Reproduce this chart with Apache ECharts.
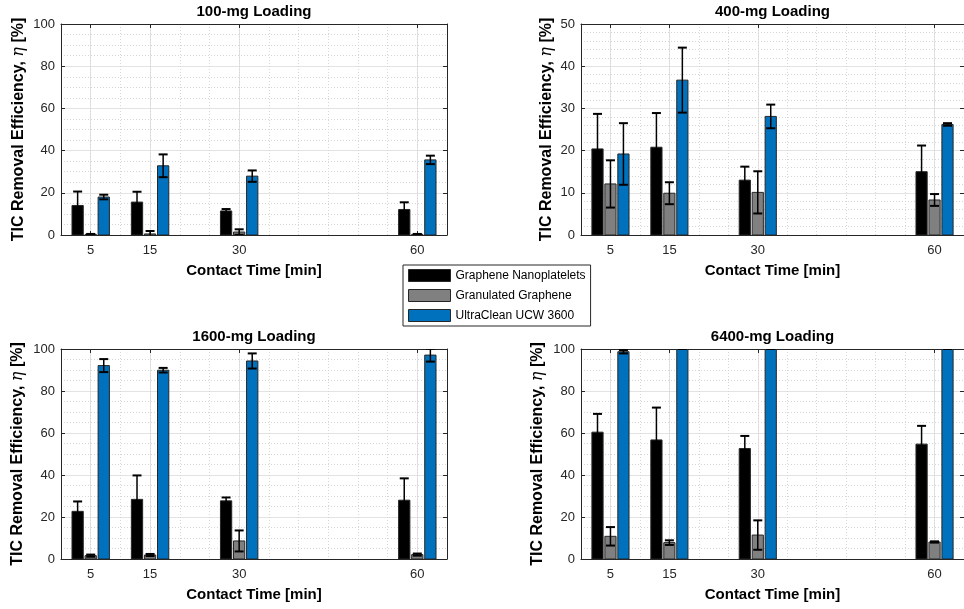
<!DOCTYPE html>
<html>
<head>
<meta charset="utf-8">
<script src="https://cdn.jsdelivr.net/npm/echarts@6/dist/echarts.min.js"></script>
<style>
html, body { margin: 0; padding: 0; background: #fff; }
#chart { width: 964px; height: 609px; }
</style>
</head>
<body>
<div id="chart"></div>
<script>
const times = [5, 15, 30, 60];
const timeTicks = [5, 15, 30, 60];
const materials = ['Graphene Nanoplatelets', 'Granulated Graphene', 'UltraClean UCW 3600'];
const loadings = ['100-mg Loading', '400-mg Loading', '1600-mg Loading', '6400-mg Loading'];
const yMax = [100, 50, 100, 100];
const yStep = [20, 10, 20, 20];
const yMinorSplit = [4, 5, 4, 4];

// 100 mg
const gnp100 = [14.0, 15.6, 11.4, 12.1];
const gnp100Err = [6.6, 4.9, 0.9, 3.4];
const gg100 = [0.3, 0.5, 1.4, 0.3];
const gg100Err = [0.2, 1.4, 1.3, 0.2];
const ucw100 = [18.0, 32.8, 27.9, 35.6];
const ucw100Err = [1.1, 5.4, 2.7, 2.0];

// 400 mg
const gnp400 = [20.4, 20.8, 13.0, 15.0];
const gnp400Err = [8.3, 8.1, 3.2, 6.2];
const gg400 = [12.1, 9.9, 10.1, 8.3];
const gg400Err = [5.6, 2.6, 5.0, 1.4];
const ucw400 = [19.2, 36.7, 28.1, 26.2];
const ucw400Err = [7.3, 7.7, 2.8, 0.3];

// 1600 mg
const gnp1600 = [22.7, 28.4, 27.7, 28.0];
const gnp1600Err = [4.7, 11.4, 1.6, 10.4];
const gg1600 = [1.6, 1.9, 8.6, 2.1];
const gg1600Err = [0.5, 0.5, 5.0, 0.5];
const ucw1600 = [92.1, 89.9, 94.3, 97.1];
const ucw1600Err = [3.1, 1.1, 3.6, 3.1];

// 6400 mg
const gnp6400 = [60.4, 56.7, 52.6, 54.7];
const gnp6400Err = [8.7, 15.4, 6.0, 8.7];
const gg6400 = [10.8, 7.8, 11.4, 8.1];
const gg6400Err = [4.4, 1.1, 7.0, 0.3];
const ucw6400 = [98.7, 100, 100, 100];
const ucw6400Err = [0.8, 0, 0, 0];

const panelData = [
    [[gnp100, gnp100Err], [gg100, gg100Err], [ucw100, ucw100Err]],
    [[gnp400, gnp400Err], [gg400, gg400Err], [ucw400, ucw400Err]],
    [[gnp1600, gnp1600Err], [gg1600, gg1600Err], [ucw1600, ucw1600Err]],
    [[gnp6400, gnp6400Err], [gg6400, gg6400Err], [ucw6400, ucw6400Err]]
];

const colors = ['#000000', '#808080', '#0072BD'];
const offsets = [-2.2, 0, 2.2];
const barW = 1.9;
const font = 'Liberation Sans, Arial, sans-serif';
const axisColor = '#262626';

const grids = [
    {left: 61, top: 24, width: 386, height: 211},
    {left: 581, top: 24, width: 385, height: 211},
    {left: 61, top: 349, width: 386, height: 210},
    {left: 581, top: 349, width: 385, height: 210}
];
const yNameGap = [34, 26, 35, 35];

let chart = echarts.init(document.getElementById('chart'), null, {renderer: 'canvas'});

function barItem(k) {
    return function (params, api) {
        const x = api.value(0) + offsets[k];
        const v = api.value(1);
        const e = api.value(2);
        const p0 = api.coord([x - barW / 2, v]);
        const p1 = api.coord([x + barW / 2, 0]);
        const hi = api.coord([x, v + e]);
        const lo = api.coord([x, v - e]);
        const cap = 4.5;
        return {
            type: 'group',
            children: [
                {
                    type: 'rect',
                    shape: {x: p0[0], y: p0[1], width: p1[0] - p0[0], height: p1[1] - p0[1]},
                    style: {fill: colors[k], stroke: '#262626', lineWidth: 1}
                },
                {type: 'line', shape: {x1: hi[0], y1: hi[1], x2: lo[0], y2: lo[1]}, style: {stroke: '#000', lineWidth: 1.5}},
                {type: 'line', shape: {x1: hi[0] - cap, y1: hi[1], x2: hi[0] + cap, y2: hi[1]}, style: {stroke: '#000', lineWidth: 2}},
                {type: 'line', shape: {x1: lo[0] - cap, y1: lo[1], x2: lo[0] + cap, y2: lo[1]}, style: {stroke: '#000', lineWidth: 2}}
            ]
        };
    };
}

let xAxes = [];
let yAxes = [];
let series = [];

grids.forEach(function (g, p) {
    xAxes.push({
        type: 'value', gridIndex: p, min: 0, max: 65, position: 'bottom',
        axisLine: {show: true, onZero: false, lineStyle: {color: axisColor}},
        axisTick: {show: true, inside: true, length: 4, customValues: timeTicks, lineStyle: {color: axisColor}},
        axisLabel: {customValues: timeTicks, color: axisColor, fontSize: 13, fontFamily: font, margin: 9},
        splitLine: {show: true, lineStyle: {color: '#e3e3e3', width: 1}},
        name: 'Contact Time [min]', nameLocation: 'middle', nameGap: 28,
        nameTextStyle: {fontWeight: 'bold', fontSize: 15, fontFamily: font, color: '#000'}
    });
    xAxes.push({
        type: 'value', gridIndex: p, min: 0, max: 65, position: 'top',
        axisLine: {show: true, onZero: false, lineStyle: {color: axisColor}},
        axisTick: {show: true, inside: true, length: 4, customValues: timeTicks, lineStyle: {color: axisColor}},
        axisLabel: {show: false, customValues: timeTicks},
        splitLine: {show: false},
        name: loadings[p], nameLocation: 'middle', nameGap: 5,
        nameTextStyle: {fontWeight: 'bold', fontSize: 15, fontFamily: font, color: '#000'}
    });
    xAxes.push({
        type: 'value', gridIndex: p, min: 0, max: 65, interval: 5,
        axisLine: {show: false}, axisTick: {show: false}, axisLabel: {show: false},
        splitLine: {show: true, lineStyle: {color: '#d6d6d6', type: [1, 2], width: 1}}
    });

    yAxes.push({
        type: 'value', gridIndex: p, min: 0, max: yMax[p], interval: yStep[p], position: 'left',
        axisLine: {show: true, onZero: false, lineStyle: {color: axisColor}},
        axisTick: {show: true, inside: true, length: 4, lineStyle: {color: axisColor}},
        axisLabel: {color: axisColor, fontSize: 13, fontFamily: font, margin: 6},
        splitLine: {show: true, lineStyle: {color: '#e3e3e3', width: 1}},
        minorTick: {show: false, splitNumber: yMinorSplit[p]},
        minorSplitLine: {show: true, lineStyle: {color: '#d6d6d6', type: [1, 2], width: 1}},
        name: 'TIC Removal Efficiency, {eta|η} [%]', nameLocation: 'middle', nameGap: yNameGap[p],
        nameTextStyle: {
            fontWeight: 'bold', fontSize: 16, fontFamily: font, color: '#000',
            rich: {eta: {fontStyle: 'italic', fontWeight: 'normal', fontFamily: 'DejaVu Serif', fontSize: 16, color: '#000'}}
        }
    });
    yAxes.push({
        type: 'value', gridIndex: p, min: 0, max: yMax[p], interval: yStep[p], position: 'right',
        axisLine: {show: true, onZero: false, lineStyle: {color: axisColor}},
        axisTick: {show: true, inside: true, length: 4, lineStyle: {color: axisColor}},
        axisLabel: {show: false},
        splitLine: {show: false}
    });

    panelData[p].forEach(function (pair, k) {
        const means = pair[0];
        const errs = pair[1];
        series.push({
            type: 'custom',
            name: materials[k],
            xAxisIndex: p * 3,
            yAxisIndex: p * 2,
            clip: true,
            itemStyle: {color: colors[k]},
            encode: {x: 0, y: 1},
            renderItem: barItem(k),
            data: times.map(function (t, i) {
                return [t, means[i], errs[i]];
            })
        });
    });
});

let option = {
    animation: false,
    backgroundColor: '#fff',
    textStyle: {fontFamily: font},
    grid: grids,
    xAxis: xAxes,
    yAxis: yAxes,
    legend: {
        orient: 'vertical',
        left: 403,
        top: 265,
        padding: [4, 5, 4, 5],
        itemWidth: 42,
        itemHeight: 12,
        itemGap: 7,
        borderColor: '#262626',
        borderWidth: 1,
        backgroundColor: '#fff',
        textStyle: {fontSize: 12, fontFamily: font, color: '#000'},
        data: materials.map(function (n, i) {
            return {name: n, icon: 'rect', itemStyle: {color: colors[i], borderColor: '#262626', borderWidth: 1}};
        })
    },
    series: series
};

chart.setOption(option);
</script>
</body>
</html>
